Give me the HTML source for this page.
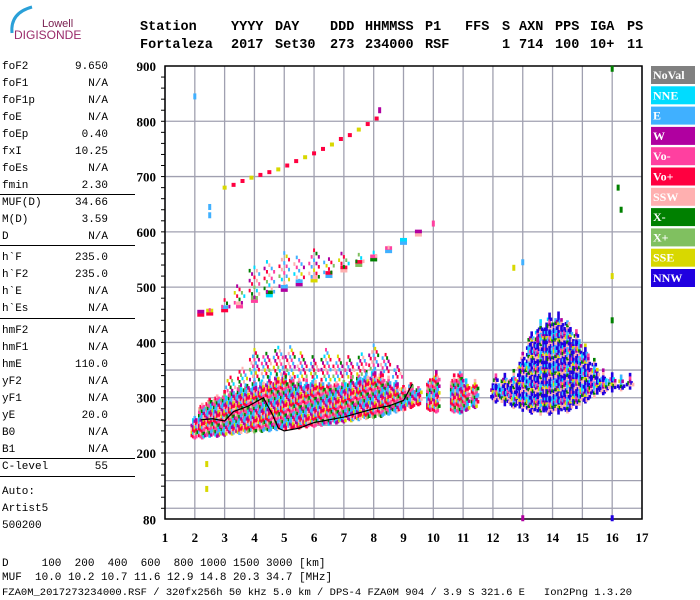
<!DOCTYPE html>
<html><head><meta charset="utf-8"><style>
body{margin:0;background:#fff;width:700px;height:600px;overflow:hidden;position:relative;font-family:"Liberation Mono",monospace}
.t{position:absolute;font-size:11px;white-space:pre;color:#000;line-height:12px}
.hw{position:absolute;font-size:13.5px;font-weight:bold;white-space:pre;line-height:14px;font-family:"Liberation Mono",monospace}
.sep{position:absolute;left:0;width:135px;height:1px;background:#000}
</style></head><body>
<div style="position:absolute;left:4px;top:3px;width:80px;height:40px">
<svg width="80" height="40"><path d="M8 30 Q6 10 28 4" stroke="#2aa0d8" stroke-width="3" fill="none"/>
<text x="38" y="24" font-family="Liberation Sans,sans-serif" font-size="11" fill="#7a2050">Lowell</text>
<text x="10" y="36" font-family="Liberation Sans,sans-serif" font-size="12" fill="#9a2a6a">DIGISONDE</text></svg></div>
<div id="header"></div>
<div id="left"></div>
<svg id="chart" width="700" height="600" style="position:absolute;left:0;top:0"></svg>
<div class="t" style="left:2px;top:558px">D     100  200  400  600  800 1000 1500 3000 [km]</div>
<div class="t" style="left:2px;top:572px">MUF  10.0 10.2 10.7 11.6 12.9 14.8 20.3 34.7 [MHz]</div>
<div class="t" style="left:2px;top:587px;font-size:10.5px">FZA0M_2017273234000.RSF / 320fx256h 50 kHz 5.0 km / DPS-4 FZA0M 904 / 3.9 S 321.6 E   Ion2Png 1.3.20</div>
<script>
const hdr=document.getElementById('header');
const hLabels=[["Station",140],["YYYY",231],["DAY",275],["DDD",330],["HHMMSS",365],["P1",425],["FFS",465],["S",502],["AXN",519],["PPS",555],["IGA",590],["PS",627]];
const hValues=[["Fortaleza",140],["2017",231],["Set30",275],["273",330],["234000",365],["RSF",425],["1",502],["714",519],["100",555],["10+",590],["11",627]];
hLabels.forEach(w=>{const d=document.createElement('div');d.className='hw';d.style.left=w[1]+'px';d.style.top='21px';d.textContent=w[0];


hdr.appendChild(d);});
hValues.forEach(w=>{const d=document.createElement('div');d.className='hw';d.style.left=w[1]+'px';d.style.top='39px';d.textContent=w[0];


hdr.appendChild(d);});
const params=[["foF2","9.650",67],["foF1","N/A",84],["foF1p","N/A",101],["foE","N/A",118],["foEp","0.40",135],["fxI","10.25",152],["foEs","N/A",169],["fmin","2.30",186],["MUF(D)","34.66",203],["M(D)","3.59",220],["D","N/A",237],["h`F","235.0",258],["h`F2","235.0",275],["h`E","N/A",292],["h`Es","N/A",309],["hmF2","N/A",331],["hmF1","N/A",348],["hmE","110.0",365],["yF2","N/A",382],["yF1","N/A",399],["yE","20.0",416],["B0","N/A",433],["B1","N/A",450],["C-level","55",467]];
const seps=[194,245,318,458,476];
const left=document.getElementById('left');
params.forEach(p=>{const a=document.createElement('div');a.className='t';a.style.left='2px';a.style.top=(p[2]-6)+'px';a.textContent=p[0];


left.appendChild(a);const b=document.createElement('div');b.className='t';b.style.right=(700-108)+'px';b.style.top=(p[2]-6)+'px';b.textContent=p[1];


left.appendChild(b);});
seps.forEach(y=>{const s=document.createElement('div');s.className='sep';s.style.top=y+'px';


left.appendChild(s);});
[["Auto:",492],["Artist5",509],["500200",526]].forEach(p=>{const a=document.createElement('div');a.className='t';a.style.left='2px';a.style.top=(p[1]-6)+'px';a.textContent=p[0];


left.appendChild(a);});

// chart data
const xTicks=[1,2,3,4,5,6,7,8,9,10,11,12,13,14,15,16,17];
const yTicks=[900,800,700,600,500,400,300,200,80];
const legendNames=["NoVal","NNE","E","W","Vo-","Vo+","SSW","X-","X+","SSE","NNW"];
const legendColors=["#808080","#00dcff","#40b0ff","#b000a0","#ff40a0","#ff0040","#ffb0b0","#008000","#80c060","#d8d800","#2000e0"];
const lowBandF=[2.0,2.25,2.5,2.75,3.0,3.25,3.5,3.75,4.0,4.25,4.5,4.75,5.0,5.25,5.5,5.75,6.0,6.25,6.5,6.75,7.0,7.25,7.5,7.75,8.0,8.25,8.5,8.75,9.0,9.25,9.5,9.9,10.1,10.7,10.9,11.1,11.4];
const lowBandLo=[225,225,228,228,230,232,233,235,236,237,238,240,240,242,243,245,246,248,250,252,254,256,258,260,262,264,268,272,275,280,285,275,272,272,270,275,280];
const lowBandHi=[265,290,300,305,310,315,320,325,330,330,335,340,345,335,330,330,335,330,325,330,330,335,340,345,350,345,335,330,320,325,320,335,345,340,345,330,330];
const scatF=[3.2,3.6,4.0,4.4,4.8,5.2,5.6,6.0,6.4,6.8,7.2,7.6,8.0,8.4,8.8];
const scatLo=[310,320,330,335,340,335,330,335,330,330,335,340,350,345,335];
const scatHi=[345,360,385,385,395,390,385,380,385,375,380,385,395,380,360];
const farF=[12.1,12.4,12.7,13.0,13.3,13.6,13.9,14.2,14.5,14.8,15.1,15.4,15.7,16.0,16.3,16.6];
const farLo=[290,285,280,275,270,268,268,270,272,280,290,300,305,310,312,315];
const farHi=[340,345,350,380,420,440,450,455,440,420,395,370,350,345,340,340];
const upF=[2.2,2.5,3.0,3.5,4.0,4.5,5.0,5.5,6.0,6.5,7.0,7.5,8.0,8.5,9.0,9.5];
const upH=[450,452,458,465,475,485,495,505,512,520,530,540,550,565,580,595];
const upTop=[455,460,475,510,545,555,560,560,565,560,565,560,565,575,585,600];
const topF=[3.0,3.3,3.6,3.9,4.2,4.5,4.8,5.1,5.4,5.7,6.0,6.3,6.6,6.9,7.2,7.5,7.8,8.1];
const topH=[680,685,692,698,703,708,713,720,728,735,742,750,758,768,775,785,795,805];
const traceF=[2.2,2.6,3.0,3.3,3.8,4.3,4.6,4.8,5.0,5.5,6.0,7.0,8.0,8.5,9.0,9.3];
const traceH=[260,262,258,275,285,300,270,245,240,245,255,265,280,285,295,325];
const spotF=[2.0,2.5,2.5,16.0,16.2,16.3,13.0,12.7,10.0,2.4,2.4,13.0,16.0,8.2,16.0,16.0,13.5];
const spotH=[845,645,630,895,680,640,545,535,615,180,135,82,82,820,520,440,405];
const spotC=[2,2,2,7,7,7,2,9,4,9,9,3,10,3,9,7,3];

const svg=document.getElementById('chart');const NS='http://www.w3.org/2000/svg';
const X0=165,X1=642,Y0=66,Y1=519;
const X=f=>X0+(f-1)*(X1-X0)/16;
const Y=h=>Y0+(900-h)*(453-66)/700;
function el(t,a){const e=document.createElementNS(NS,t);for(const k in a)e.setAttribute(k,a[k]);svg.appendChild(e);return e;}
xTicks.forEach(f=>{const g=el('line',{x1:X(f),x2:X(f),y1:Y0,y2:Y1,stroke:'#a0a0b0','stroke-width':1.3});


const t=el('text',{x:X(f),y:542,'text-anchor':'middle','font-family':'Liberation Serif,serif','font-weight':'bold','font-size':13});t.textContent=f;

});
const gridH=[800,700,600,500,400,350,300,250,200,150,100];
gridH.forEach(h=>{const g=el('line',{x1:X0,x2:X1,y1:Y(h),y2:Y(h),stroke:'#a0a0b0','stroke-width':1.3});

});
yTicks.forEach(h=>{const t=el('text',{x:156,y:Y(h)+5,'text-anchor':'end','font-family':'Liberation Serif,serif','font-weight':'bold','font-size':13});t.textContent=h;

});
for(let h=880;h>=90;h-=20){const m=el('line',{x1:X0-4,x2:X0,y1:Y(h),y2:Y(h),stroke:'#000'});

}
const ax=el('path',{d:`M${X0} ${Y0}H${X1}V${Y1}H${X0}Z`,fill:'none',stroke:'#000','stroke-width':1.5});


const mixA=[5,2,6,3,4,5,2,8,9,1,5,6,7,2,3,4];
const mixB=[10,2,10,6,1,10,3,2,10,4,6,9,10,7,10];
function column(f,lo,hi,pal,k,w,gap){for(let h=lo,j=0;h<hi;h+=6,j++){if(gap&&((j*7+k)%gap))continue;const c=legendColors[pal[(k*5+j*3)%pal.length]];
const r=el('rect',{x:X(f)-w/2,y:Y(h+6),width:w,height:3.6,fill:c});

}}
lowBandF.forEach((f,i)=>{for(let d=-2;d<=2;d++)column(f+d*0.05,lowBandLo[i]+Math.abs(d)*2,lowBandHi[i]-Math.abs(d)*6,mixA,i+d+3,2.6,(d===2)?2:0);});
scatF.forEach((f,i)=>{for(let d=-3;d<=3;d++)column(f+d*0.05,scatLo[i],scatHi[i]-Math.abs(d)*5,mixA,i*2+d+5,2,3);});
farF.forEach((f,i)=>{for(let d=-3;d<=3;d++)column(f+d*0.05,farLo[i]+Math.abs(d)*3,farHi[i]-Math.abs(d)*8,mixB,i+d+3,2.6,(d%2)?2:0);});
upF.forEach((f,i)=>{column(f,upH[i]-3,upH[i]+6,mixA,i,7,0);for(let d=-2;d<=2;d++)column(f+d*0.08,upH[i]+4,upTop[i]-Math.abs(d)*6,mixA,i+d+2,2,3);});
topF.forEach((f,i)=>{const r=el('rect',{x:X(f)-2,y:Y(topH[i])-2,width:4,height:4,fill:legendColors[i%3===0?9:5]});

});
spotF.forEach((f,i)=>{const r=el('rect',{x:X(f)-1.5,y:Y(spotH[i])-3,width:3,height:6,fill:legendColors[spotC[i]]});

});
const tr=el('polyline',{points:traceF.map((f,i)=>X(f)+','+Y(traceH[i])).join(' '),fill:'none',stroke:'#000','stroke-width':1.2});


legendNames.forEach((n,i)=>{const y=66+i*20.3;const r=el('rect',{x:651,y:y,width:44,height:18,fill:legendColors[i]});


const t=el('text',{x:653,y:y+13,fill:'#fff','font-family':'Liberation Serif,serif','font-weight':'bold','font-size':12});t.textContent=n;

});
</script>
</body></html>
